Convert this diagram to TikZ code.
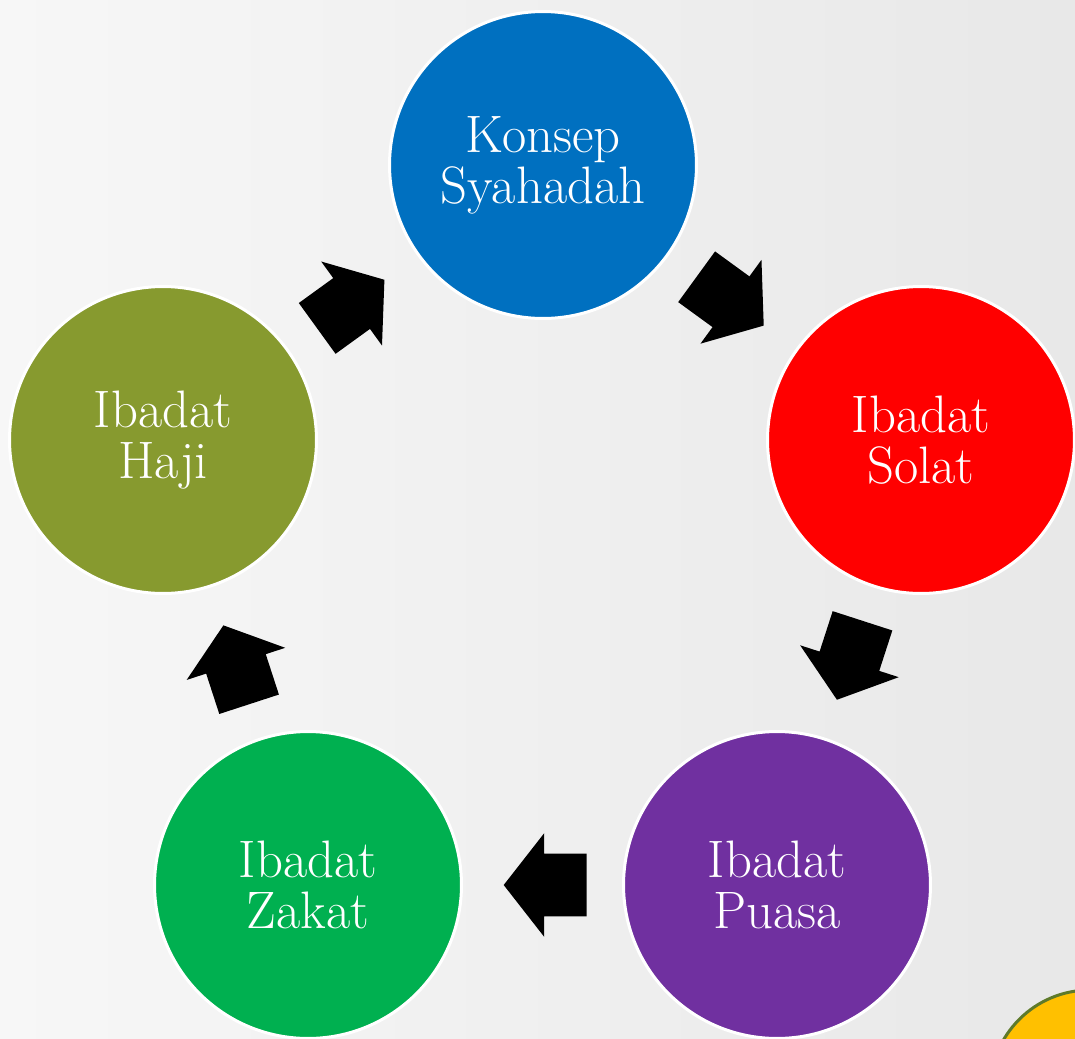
\documentclass[tikz,border=0pt]{standalone}
\usetikzlibrary{shapes.arrows,calc}
\definecolor{cBlue}{HTML}{0070C0}
\definecolor{cRed}{HTML}{FF0000}
\definecolor{cPurple}{HTML}{7030A0}
\definecolor{cGreen}{HTML}{00B050}
\definecolor{cOlive}{HTML}{879A2F}
\definecolor{cYellow}{HTML}{FFC000}
\definecolor{cRim}{HTML}{5E7A2A}
\definecolor{bgLight}{HTML}{F7F7F7}
\definecolor{bgDark}{HTML}{E8E8E8}
\begin{document}
\begin{tikzpicture}[x=0.02cm,y=-0.02cm,
  ball/.style={circle,draw=white,line width=0.06cm,minimum size=6.14cm,inner sep=0pt,
    text=white,align=center,font=\fontsize{30}{29}\selectfont},
  blk/.style={single arrow,fill=black,draw=none,inner xsep=0pt,inner ysep=0.62cm,
    text height=0pt,text depth=0pt,
    minimum height=1.66cm,minimum width=2.06cm,
    single arrow head extend=0.41cm,single arrow tip angle=104,
    anchor=tail,pos=0.22,sloped,allow upside down},
  ]
\useasboundingbox (0,0) rectangle (1075,1038);
\begin{scope}
\clip (0,0) rectangle (1075,1038);
\shade[shading=axis,shading angle=135,left color=bgLight,right color=bgDark] (0,0) rectangle (1075,1038);
\node[circle,fill=cYellow,draw=cRim,line width=0.06cm,minimum size=4cm,inner sep=0pt] (sun) at (1090,1090) {};
\end{scope}
\node[ball,fill=cBlue]   (syah)  at (543,165) {Konsep\\Syahadah};
\node[ball,fill=cRed]    (solat) at (921,440) {Ibadat\\Solat};
\node[ball,fill=cPurple] (puasa) at (777,885) {Ibadat\\Puasa};
\node[ball,fill=cGreen]  (zakat) at (308,885) {Ibadat\\Zakat};
\node[ball,fill=cOlive]  (haji)  at (163,440) {Ibadat\\Haji};
\path (syah) -- (solat) node[blk] (a1) {};
\path (solat) -- (puasa) node[blk] (a2) {};
\path (puasa) -- (zakat) node[blk] (a3) {};
\path (zakat) -- (haji) node[blk] (a4) {};
\path (haji) -- (syah) node[blk] (a5) {};
\end{tikzpicture}
\end{document}
